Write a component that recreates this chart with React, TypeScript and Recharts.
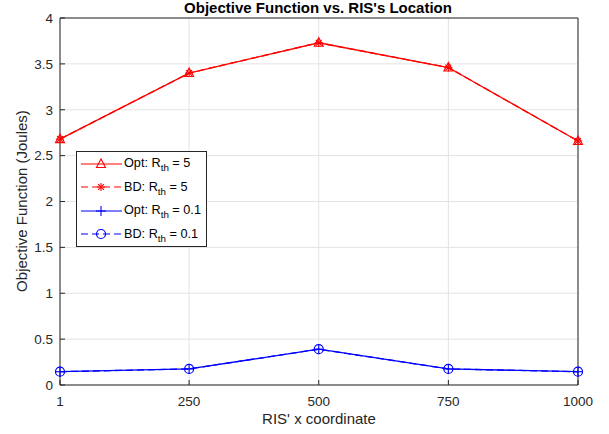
import { CartesianGrid, Legend, Line, LineChart, XAxis, YAxis } from 'recharts';

const xCoords = [1, 250, 500, 750, 1000];
const optHigh = [2.68, 3.4, 3.73, 3.46, 2.66];
const bdHigh = [2.68, 3.4, 3.73, 3.46, 2.66];
const optLow = [0.145, 0.175, 0.39, 0.175, 0.145];
const bdLow = [0.145, 0.175, 0.39, 0.175, 0.145];
const xTicks = [1, 250, 500, 750, 1000];
const yTicks = [0, 0.5, 1, 1.5, 2, 2.5, 3, 3.5, 4];

const rows = xCoords.map((x, i) => ({
  x,
  optHigh: optHigh[i],
  bdHigh: bdHigh[i],
  optLow: optLow[i],
  bdLow: bdLow[i],
}));

const RED = '#ff0000';
const BLUE = '#0000ff';
const INK = '#262626';
const FONT = '"Liberation Sans", Arial, Helvetica, sans-serif';

type MarkerKind = 'triangle' | 'asterisk' | 'plus' | 'circle';

const Marker = ({ kind, cx, cy, color }: { kind: MarkerKind; cx: number; cy: number; color: string }) => {
  if (kind === 'triangle') {
    const pts = `${cx},${cy - 5} ${cx - 4.5},${cy + 3.5} ${cx + 4.5},${cy + 3.5}`;
    return <polygon points={pts} fill="none" stroke={color} strokeWidth={1.1} />;
  }
  if (kind === 'asterisk') {
    const r = 4;
    const d = 2.9;
    return (
      <g stroke={color} strokeWidth={1.1}>
        <line x1={cx - r} y1={cy} x2={cx + r} y2={cy} />
        <line x1={cx} y1={cy - r} x2={cx} y2={cy + r} />
        <line x1={cx - d} y1={cy - d} x2={cx + d} y2={cy + d} />
        <line x1={cx - d} y1={cy + d} x2={cx + d} y2={cy - d} />
      </g>
    );
  }
  if (kind === 'plus') {
    const r = 5;
    return (
      <g stroke={color} strokeWidth={1.1}>
        <line x1={cx - r} y1={cy} x2={cx + r} y2={cy} />
        <line x1={cx} y1={cy - r} x2={cx} y2={cy + r} />
      </g>
    );
  }
  return <circle cx={cx} cy={cy} r={4.5} fill="none" stroke={color} strokeWidth={1.2} />;
};

const makeDot = (kind: MarkerKind, color: string) => (props: any) => {
  const { cx, cy, index } = props;
  if (cx == null || cy == null) return <g key={`${kind}-${index}`} />;
  return <Marker key={`${kind}-${index}`} kind={kind} cx={cx} cy={cy} color={color} />;
};

const legendItems: { label: string; rth: string; color: string; dash?: string; marker: MarkerKind }[] = [
  { label: 'Opt: R', rth: '5', color: RED, marker: 'triangle' },
  { label: 'BD: R', rth: '5', color: RED, dash: '7 4', marker: 'asterisk' },
  { label: 'Opt: R', rth: '0.1', color: BLUE, marker: 'plus' },
  { label: 'BD: R', rth: '0.1', color: BLUE, dash: '7 4', marker: 'circle' },
];

const LegendBox = () => (
  <div
    style={{
      width: 129,
      height: 94,
      border: `1px solid ${INK}`,
      background: '#fff',
      fontFamily: FONT,
      fontSize: 12.7,
      color: '#000',
    }}
  >
    {legendItems.map((item, i) => (
      <div key={i} style={{ height: 23.5, display: 'flex', alignItems: 'center' }}>
        <svg width={47} height={20} style={{ flex: 'none' }}>
          <line x1={4} y1={10} x2={45} y2={10} stroke={item.color} strokeWidth={1.2} strokeDasharray={item.dash} />
          <Marker kind={item.marker} cx={24} cy={10} color={item.color} />
        </svg>
        <span style={{ whiteSpace: 'nowrap', lineHeight: '12px' }}>
          {item.label}
          <span style={{ fontSize: 9.8, position: 'relative', top: 4 }}>th</span>
          {` = ${item.rth}`}
        </span>
      </div>
    ))}
  </div>
);

const tickStyle = { fontSize: 13.5, fill: INK, fontFamily: FONT };

const App = () => {
  return (
    <div style={{ position: 'absolute', left: 0, top: 0, width: 609, height: 434, background: '#fff', fontFamily: FONT }}>
      <LineChart width={609} height={434} data={rows} margin={{ top: 17, right: 30, bottom: 0, left: 0 }}>
        <CartesianGrid xAxisId="bottom" yAxisId="left" stroke="#e3e3e3" strokeWidth={1} />
        <XAxis
          xAxisId="bottom"
          dataKey="x"
          type="number"
          domain={[1, 1000]}
          ticks={xTicks}
          height={49}
          tickSize={-5}
          tickMargin={16}
          stroke={INK}
          tick={tickStyle}
          interval={0}
        />
        <XAxis
          xAxisId="top"
          orientation="top"
          dataKey="x"
          type="number"
          domain={[1, 1000]}
          ticks={xTicks}
          height={1}
          tickSize={-5}
          stroke={INK}
          tick={false}
        />
        <YAxis
          yAxisId="left"
          type="number"
          domain={[0, 4]}
          ticks={yTicks}
          width={60}
          tickSize={-5}
          tickMargin={12}
          stroke={INK}
          tick={tickStyle}
          interval={0}
        />
        <YAxis
          yAxisId="right"
          orientation="right"
          type="number"
          domain={[0, 4]}
          ticks={yTicks}
          width={1}
          tickSize={-5}
          stroke={INK}
          tick={false}
          allowDataOverflow
        />
        <Line xAxisId="bottom" yAxisId="left" dataKey="optHigh" stroke={RED} strokeWidth={1.3}
          dot={makeDot('triangle', RED)} activeDot={false} isAnimationActive={false} />
        <Line xAxisId="bottom" yAxisId="left" dataKey="bdHigh" stroke={RED} strokeWidth={1.3} strokeDasharray="7 4"
          dot={makeDot('asterisk', RED)} activeDot={false} isAnimationActive={false} />
        <Line xAxisId="bottom" yAxisId="left" dataKey="optLow" stroke={BLUE} strokeWidth={1.3}
          dot={makeDot('plus', BLUE)} activeDot={false} isAnimationActive={false} />
        <Line xAxisId="bottom" yAxisId="left" dataKey="bdLow" stroke={BLUE} strokeWidth={1.3} strokeDasharray="7 4"
          dot={makeDot('circle', BLUE)} activeDot={false} isAnimationActive={false} />
        <Legend
          layout="vertical"
          align="center"
          verticalAlign="middle"
          content={() => <LegendBox />}
          wrapperStyle={{ left: 76, top: 151, width: 131, height: 96 }}
        />
        <text x={318} y={12.5} textAnchor="middle" fontSize={15} fontWeight="bold" fill="#000" fontFamily={FONT}>
          Objective Function vs. RIS's Location
        </text>
        <text x={319} y={424} textAnchor="middle" fontSize={15} fill={INK} fontFamily={FONT}>
          RIS' x coordinate
        </text>
        <text transform="rotate(-90)" x={-201} y={27} textAnchor="middle" fontSize={15} fill={INK} fontFamily={FONT}>
          Objective Function (Joules)
        </text>
      </LineChart>
    </div>
  );
};

export default App;
